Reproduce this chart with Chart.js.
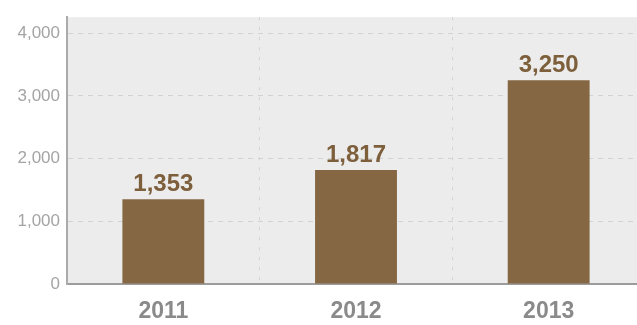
<!DOCTYPE html>
<html>
<head>
<meta charset="utf-8">
<script src="https://cdn.jsdelivr.net/npm/chart.js@4"></script>
<style>
  html, body { margin: 0; padding: 0; background: #fff; overflow: hidden; }
  #wrap { width: 645px; height: 325px; }
</style>
</head>
<body>
<div id="wrap"><canvas id="salesChart"></canvas></div>
<script>
const years = ['2011', '2012', '2013'];
const totals = [1353, 1817, 3250];
const yTicks = [0, 1000, 2000, 3000, 4000];

const FONT = 'Helvetica, Arial, "Liberation Sans", sans-serif';

// grey panel behind the bars
const plotBackground = {
    id: 'plotBackground',
    beforeDraw(chart) {
        const { ctx, chartArea: a } = chart;
        ctx.save();
        ctx.fillStyle = '#ececec';
        ctx.fillRect(a.left, a.top, a.right - a.left, a.bottom - a.top);
        ctx.restore();
    }
};

// value printed above each bar
const barValues = {
    id: 'barValues',
    afterDatasetsDraw(chart) {
        const ctx = chart.ctx;
        const meta = chart.getDatasetMeta(0);
        ctx.save();
        ctx.font = 'bold 24px ' + FONT;
        ctx.fillStyle = '#7d5f3c';
        ctx.textAlign = 'center';
        ctx.textBaseline = 'alphabetic';
        meta.data.forEach((bar, i) => {
            ctx.fillText(totals[i].toLocaleString('en-US'), bar.x, bar.y - 8);
        });
        ctx.restore();
    }
};

const ctx = document.getElementById('salesChart').getContext('2d');
new Chart(ctx, {
    type: 'bar',
    data: {
        labels: years,
        datasets: [{
            data: totals,
            backgroundColor: '#866743',
            barPercentage: 0.85,
            categoryPercentage: 0.5
        }]
    },
    options: {
        responsive: true,
        maintainAspectRatio: false,
        animation: false,
        layout: { padding: { top: 16, right: 0, left: 0, bottom: 0 } },
        plugins: {
            legend: { display: false },
            tooltip: { enabled: false }
        },
        scales: {
            x: {
                grid: { color: '#d2d2d2', drawTicks: false, offset: true },
                border: { color: '#9c9c9c', width: 2, dash: [3, 7] },
                ticks: {
                    color: '#8a8a8a',
                    padding: 14,
                    font: { family: FONT, size: 23, weight: 'bold' }
                },
                afterFit(scale) { scale.height = 41; }
            },
            y: {
                min: 0,
                max: 4254,
                grid: { color: '#d2d2d2', drawTicks: false },
                border: { color: '#ababab', width: 2, dash: [5, 5] },
                afterBuildTicks(scale) {
                    scale.ticks = yTicks.map(v => ({ value: v }));
                },
                ticks: {
                    color: '#a4a4a4',
                    padding: 7,
                    font: { family: FONT, size: 17 },
                    callback: v => v.toLocaleString('en-US')
                },
                afterFit(scale) { scale.width = 67; }
            }
        }
    },
    plugins: [plotBackground, barValues]
});
</script>
</body>
</html>
